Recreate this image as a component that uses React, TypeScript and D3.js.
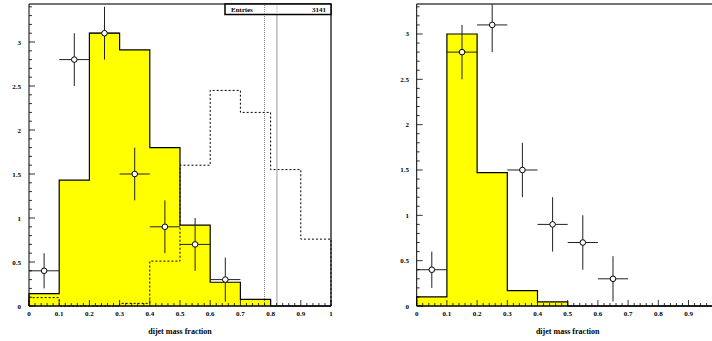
import React from "react";
import * as d3 from "d3";

const binEdges = [0, 0.1, 0.2, 0.3, 0.4, 0.5, 0.6, 0.7, 0.8, 0.9, 1.0];
const leftFilled = [0.14, 1.43, 3.1, 2.91, 1.8, 0.92, 0.27, 0.075, 0, 0];
const leftDashed = [0.095, 0, 0, 0.03, 0.51, 1.6, 2.45, 2.2, 1.55, 0.76];
const rightFilled = [0.1, 3.0, 1.47, 0.17, 0.045, 0, 0, 0, 0, 0];

const pointX = [0.05, 0.15, 0.25, 0.35, 0.45, 0.55, 0.65];
const pointY = [0.4, 2.8, 3.1, 1.5, 0.9, 0.7, 0.3];
const pointErr = [0.2, 0.3, 0.3, 0.3, 0.3, 0.3, 0.25];
const pointXErr = 0.05;

const yTicks = [0, 0.5, 1, 1.5, 2, 2.5, 3];
const xTicks = [0, 0.1, 0.2, 0.3, 0.4, 0.5, 0.6, 0.7, 0.8, 0.9, 1];
const vLineDotted = 0.78;
const vLineGray = 0.821;
const entries = "3141";
const xTitle = "dijet mass fraction";

const FONT = "'Liberation Serif', 'DejaVu Serif', serif";
const W = 712;

function histPath(x: d3.ScaleLinear<number, number>, y: d3.ScaleLinear<number, number>, vals: number[]) {
  const p = d3.path();
  p.moveTo(x(binEdges[0]), y(0));
  vals.forEach((v, i) => {
    p.lineTo(x(binEdges[i]), y(v));
    p.lineTo(x(binEdges[i + 1]), y(v));
  });
  p.lineTo(x(binEdges[vals.length]), y(0));
  return p.toString();
}

function Panel({ x, y, ymax, filled, dashed, showRight, legend, lines, labelX, clipId }: any) {
  const [x0, x1] = x.range();
  const [y0, y1] = y.range();
  const xMinor = d3.range(0, 1.0001, 0.02);
  const yMinor = d3.range(0, ymax, 0.1);
  const visRight = Math.min(x1, W);
  return (
    <g>
      <defs>
        <clipPath id={clipId}>
          <rect x={x0} y={y1} width={x1 - x0} height={y0 - y1} />
        </clipPath>
      </defs>
      <path d={histPath(x, y, filled)} fill="#ffff00" stroke="#000" strokeWidth={1.2} />
      {dashed && (
        <path d={histPath(x, y, dashed)} fill="none" stroke="#000" strokeWidth={1} strokeDasharray="2,2" />
      )}
      {lines && (
        <g>
          <line x1={x(vLineDotted)} x2={x(vLineDotted)} y1={y1} y2={y0} stroke="#555" strokeWidth={0.8} strokeDasharray="1,1" />
          <line x1={x(vLineGray)} x2={x(vLineGray)} y1={y1} y2={y0} stroke="#aaa" strokeWidth={1.2} />
        </g>
      )}
      <g clipPath={`url(#${clipId})`}>
        {pointX.map((px, i) => (
          <g key={i}>
            <line x1={x(px - pointXErr)} x2={x(px + pointXErr)} y1={y(pointY[i])} y2={y(pointY[i])} stroke="#222" strokeWidth={1} />
            <line x1={x(px)} x2={x(px)} y1={y(pointY[i] - pointErr[i])} y2={y(pointY[i] + pointErr[i])} stroke="#222" strokeWidth={1} />
            <circle cx={x(px)} cy={y(pointY[i])} r={2.8} fill="#fff" stroke="#000" strokeWidth={1} />
          </g>
        ))}
      </g>
      {/* frame */}
      <line x1={x0} x2={visRight} y1={y1} y2={y1} stroke="#444" strokeWidth={1.5} />
      {showRight && <line x1={x1} x2={x1} y1={y1} y2={y0} stroke="#000" strokeWidth={1.2} />}
      <line x1={x0} x2={x0} y1={y1} y2={y0} stroke="#000" strokeWidth={1} />
      <line x1={x0} x2={visRight} y1={y0} y2={y0} stroke="#000" strokeWidth={1.3} />
      {/* x ticks */}
      {xMinor.map((t, i) => (
        <line key={i} x1={x(t)} x2={x(t)} y1={y0} y2={y0 - (i % 5 === 0 ? 6 : 3)} stroke="#000" strokeWidth={0.8} />
      ))}
      {yMinor.map((t, i) => (
        <line key={i} x1={x0} x2={x0 + (i % 5 === 0 ? 6 : 3)} y1={y(t)} y2={y(t)} stroke="#000" strokeWidth={0.8} />
      ))}
      {xTicks.filter((t) => x(t) + 4 < W).map((t) => (
        <text key={t} x={x(t)} y={y0 + 10} textAnchor="middle" fontFamily={FONT} fontWeight="bold" fontSize={7}>
          {t === 0 || t === 1 ? String(t) : t.toFixed(1)}
        </text>
      ))}
      {yTicks.map((t) => (
        <text key={t} x={labelX} y={y(t) + 2.5} textAnchor="end" fontFamily={FONT} fontWeight="bold" fontSize={7}>
          {String(t)}
        </text>
      ))}
      <text x={x(0.5)} y={334} textAnchor="middle" fontFamily={FONT} fontWeight="bold" fontSize={8}>
        {xTitle}
      </text>
      {legend && (
        <g>
          <rect x={225} y={4} width={106} height={10.5} fill="#fff" stroke="#000" strokeWidth={1.5} />
          <line x1={x(vLineDotted)} x2={x(vLineDotted)} y1={5} y2={14} stroke="#777" strokeWidth={0.8} strokeDasharray="1,1" />
          <line x1={x(vLineGray)} x2={x(vLineGray)} y1={5} y2={14} stroke="#ccc" strokeWidth={1} />
          <text x={231} y={12} fontFamily={FONT} fontWeight="bold" fontSize={7}>Entries</text>
          <text x={326} y={12} textAnchor="end" fontFamily={FONT} fontWeight="bold" fontSize={7}>{entries}</text>
        </g>
      )}
    </g>
  );
}

export default function App() {
  const xL = d3.scaleLinear().domain([0, 1]).range([29, 331]);
  const ymaxL = 302 / 88;
  const yL = d3.scaleLinear().domain([0, ymaxL]).range([306, 4]);
  const xR = d3.scaleLinear().domain([0, 1]).range([416.7, 718.7]);
  const ymaxR = 302 / 90.67;
  const yR = d3.scaleLinear().domain([0, ymaxR]).range([306, 4]);
  return (
    <svg width={W} height={341} style={{ position: "absolute", left: 0, top: 0, background: "#fff" }}>
      <rect width={W} height={341} fill="#fff" />
      <Panel x={xL} y={yL} ymax={ymaxL} filled={leftFilled} dashed={leftDashed} showRight legend lines labelX={21} clipId="cl" />
      <Panel x={xR} y={yR} ymax={ymaxR} filled={rightFilled} labelX={409} clipId="cr" />
    </svg>
  );
}
